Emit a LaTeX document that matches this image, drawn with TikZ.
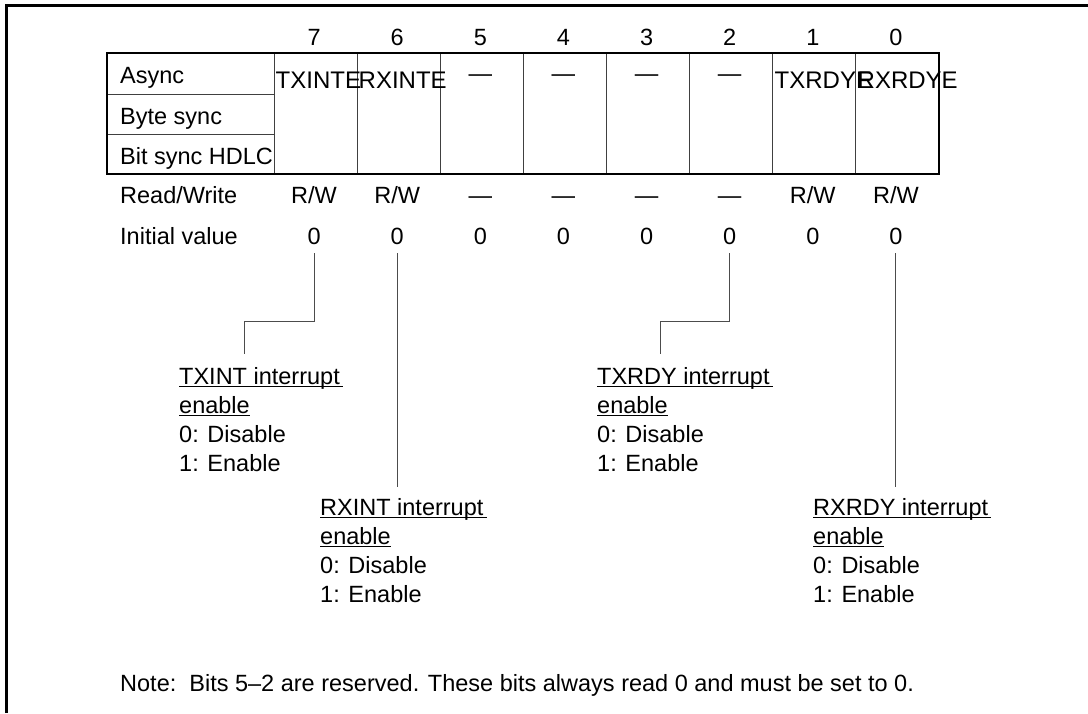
\documentclass[tikz,border=0pt]{standalone}
\usepackage{fontspec}
\setmainfont{Liberation Sans}
\begin{document}
\begin{tikzpicture}[x=1pt,y=-1pt,
  txt/.style={inner sep=0pt, font=\fontsize{23.5}{28}\selectfont},
  lft/.style={txt, anchor=base west},
  ctr/.style={txt, anchor=base},
  fld/.style={inner sep=0pt, anchor=base west, font=\fontsize{24}{28}\selectfont},
  frame/.style={line width=3pt},
  tbl/.style={line width=2pt},
  thin/.style={line width=1pt, draw=black!75},
  leader/.style={line width=1pt, draw=black!70, shorten <=9pt},
  uline/.style={line width=1pt}]
\useasboundingbox (0,0) rectangle (1088,713);
% outer frame
\draw[frame] (6,713) -- (6,5.5) -- (1088,5.5);
% table grid
\foreach \k in {0,...,7} {
  \pgfmathsetmacro\vx{274+83.125*\k}
  \draw[thin] (\vx,53) -- (\vx,174);
}
\draw[thin] (107,94) -- (274,94);
\draw[thin] (107,134) -- (274,134);
\draw[tbl] (107,53) rectangle (939,174);
% row labels
\node[lft] (async) at (120,83.5) {Async};
\node[lft] (byte) at (120,124) {Byte sync};
\node[lft] (bitsync) at (120,164) {Bit sync HDLC};
\node[lft] (rwlab) at (120,203) {Read/Write};
\node[lft] (ivlab) at (120,244) {Initial value};
% bit columns
\foreach \b/\rw [count=\k from 0] in {7/R\slash W,6/R\slash W,5/—,4/—,3/—,2/—,1/R\slash W,0/R\slash W} {
  \pgfmathsetmacro\cx{274+83.125*(\k+0.5)-1.5}
  \node[ctr] (bn\b) at (\cx,45) {\b};
  \node[ctr] (rw\b) at (\cx,203) {\rw};
  \node[ctr] (iv\b) at (\cx,244) {0};
}
% field names
\node[fld] (f7) at (275.5,88) {TXINTE};
\node[fld] (f6) at (358.5,88) {RXINTE};
\foreach \k/\b in {2/5,3/4,4/3,5/2} {
  \pgfmathsetmacro\cx{274+83.125*(\k+0.5)-1.5}
  \node[ctr] (f\b) at (\cx,81.5) {—};
}
\node[fld] (f1) at (774.5,88) {TXRDYE};
\node[fld] (f0) at (857.5,88) {RXRDYE};
% description blocks
\node[lft] (ta) at (179,384) {TXINT interrupt};
\node[lft] (tb) at (179,413) {enable};
\node[lft] (tc) at (179,442) {0: Disable};
\node[lft] (td) at (179,471) {1: Enable};
\node[lft] (ra) at (320,515) {RXINT interrupt};
\node[lft] (rb) at (320,544) {enable};
\node[lft] (rc) at (320,573) {0: Disable};
\node[lft] (rd) at (320,602) {1: Enable};
\node[lft] (sa) at (597,384) {TXRDY interrupt};
\node[lft] (sb) at (597,413) {enable};
\node[lft] (sc) at (597,442) {0: Disable};
\node[lft] (sd) at (597,471) {1: Enable};
\node[lft] (qa) at (813,515) {RXRDY interrupt};
\node[lft] (qb) at (813,544) {enable};
\node[lft] (qc) at (813,573) {0: Disable};
\node[lft] (qd) at (813,602) {1: Enable};
% underlines
\foreach \n in {ta,ra,sa,qa} {
  \draw[uline] ([yshift=-2.5pt]\n.base west) -- ([yshift=-2.5pt,xshift=3pt]\n.base east);
}
\foreach \n in {tb,rb,sb,qb} {
  \draw[uline] ([yshift=-2.5pt]\n.base west) -- ([yshift=-2.5pt]\n.base east);
}
% leaders
\coordinate (k7) at (244,321);
\coordinate (e7) at (244,354);
\coordinate (e6) at (397,487);
\coordinate (k2) at (660,321);
\coordinate (e2) at (660,354);
\coordinate (e0) at (897,487);
\draw[leader] (iv7.south) |- (k7) -- (e7);
\draw[leader] (iv6.south) -- (iv6.south |- e6);
\draw[leader] (iv2.south) |- (k2) -- (e2);
\draw[leader] (iv0.south) -- (iv0.south |- e0);
% note
\node[lft] (note) at (120,691) {Note:\ \ Bits 5–2 are reserved. These bits always read 0 and must be set to 0.};
\end{tikzpicture}
\end{document}
